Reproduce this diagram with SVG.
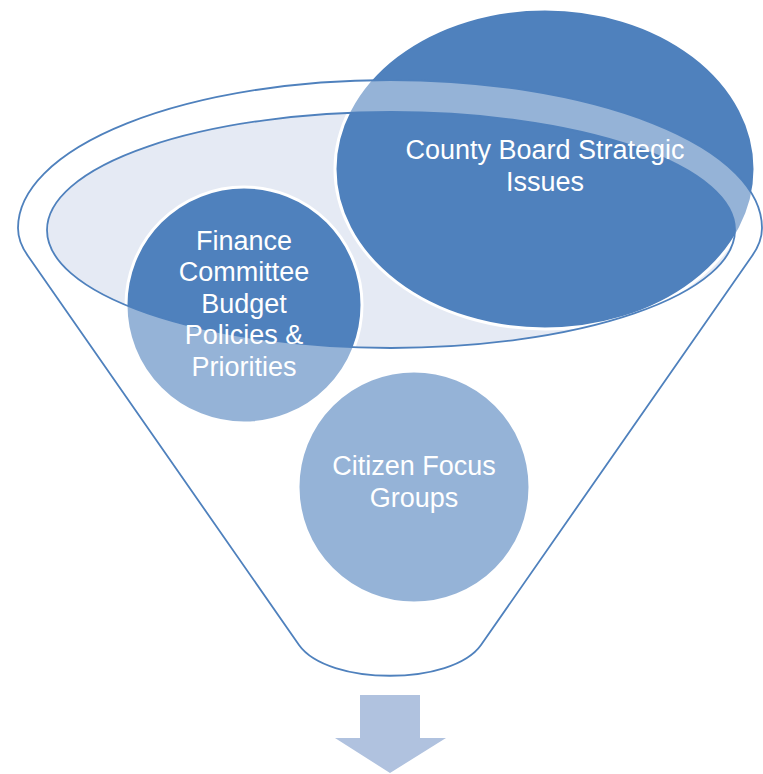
<svg xmlns="http://www.w3.org/2000/svg" width="763" height="774" viewBox="0 0 763 774">
<style>
.node{fill:#4F81BD;stroke:#FFFFFF;stroke-width:3}
.lbl{font-family:"Liberation Sans",Arial,sans-serif;font-size:27px;fill:#FFFFFF;text-anchor:middle}
.rim{fill:#FFFFFF;fill-opacity:0.4;fill-rule:evenodd;stroke:#4F81BD;stroke-width:1.8}
</style>
<rect width="763" height="774" fill="#FFFFFF"/>
<g id="funnel-inner">
<ellipse cx="391" cy="230" rx="344" ry="118" fill="#E5EAF4"/>
</g>
<g id="county-board">
<ellipse class="node" cx="545" cy="169" rx="210" ry="160"/>
</g>
<g id="finance">
<circle class="node" cx="244" cy="305" r="118"/>
</g>
<g id="citizen">
<circle class="node" cx="414" cy="487" r="116"/>
</g>
<g id="funnel">
<path class="rim" d="M 18,228 A 372,148 0 0 1 762,228 Q 762,242 752,256 L 481,645 C 452,686 328,686 299,645 L 28,256 Q 18,242 18,228 Z M 47,230 A 344,118 0 1 0 735,230 A 344,118 0 1 0 47,230 Z"/>
</g>
<g id="labels">
<text class="lbl" x="545" y="159">County Board Strategic</text>
<text class="lbl" x="545" y="191">Issues</text>
<text class="lbl" x="244" y="250">Finance</text>
<text class="lbl" x="244" y="281">Committee</text>
<text class="lbl" x="244" y="313">Budget</text>
<text class="lbl" x="244" y="344">Policies &amp;</text>
<text class="lbl" x="244" y="376">Priorities</text>
<text class="lbl" x="414" y="475">Citizen Focus</text>
<text class="lbl" x="414" y="507">Groups</text>
</g>
<g id="connectors">
<polygon points="360,695 420,695 420,738 446,738 390,773 335,738 360,738" fill="#B0C2DF"/>
</g>
</svg>
